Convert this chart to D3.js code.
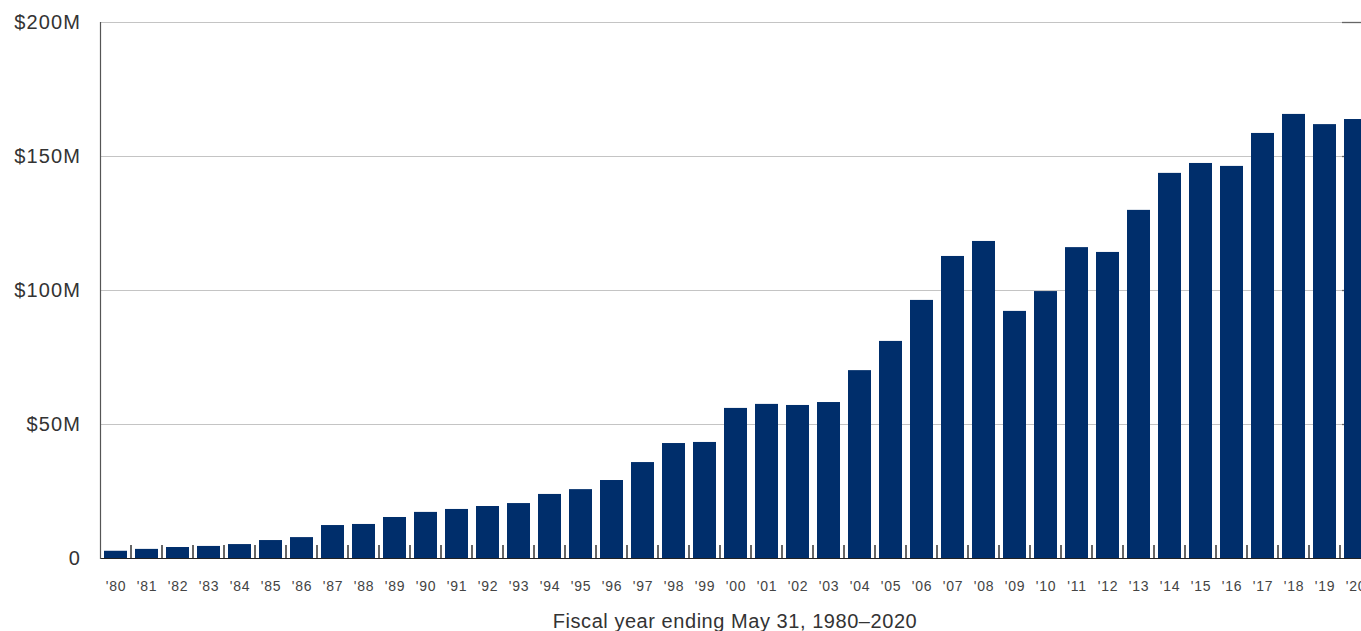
<!DOCTYPE html>
<html><head><meta charset="utf-8">
<script src="https://cdn.jsdelivr.net/npm/d3@7"></script>
<style>html,body{margin:0;padding:0;background:#fff;overflow:hidden}</style>
</head><body>
<svg id="c" width="1361" height="631"></svg>
<script>
const years = ["'80","'81","'82","'83","'84","'85","'86","'87","'88","'89","'90","'91","'92","'93","'94","'95","'96","'97","'98","'99","'00","'01","'02","'03","'04","'05","'06","'07","'08","'09","'10","'11","'12","'13","'14","'15","'16","'17","'18","'19","'20"];
const revenue = [2.7,3.4,4.1,4.5,5.2,6.7,7.8,12.3,12.7,15.3,17.2,18.3,19.4,20.5,23.9,25.7,29.1,35.8,42.9,43.3,56.0,57.5,57.1,58.2,70.1,81.0,96.3,112.7,118.3,92.2,99.6,116.0,114.2,129.9,143.7,147.4,146.3,158.6,165.7,161.9,163.8];
const yTicks = [0,50,100,150,200];
const yTickLabels = ["0","$50M","$100M","$150M","$200M"];
const xTitle = "Fiscal year ending May 31, 1980–2020";

const svg = d3.select("#c");
const font = "'Liberation Sans', Arial, Helvetica, sans-serif";
const mLeft = 100, mRight = 1371, mTop = 22, mBottom = 558;

const x = d3.scaleBand().domain(years).range([mLeft, mRight]).paddingInner(0.258).paddingOuter(0.129);
const y = d3.scaleLinear().domain([0, 200]).range([mBottom, mTop]);

// gridlines
svg.append("g").selectAll("line").data(yTicks.filter(d => d > 0)).join("line")
  .attr("x1", mLeft).attr("x2", 1361)
  .attr("y1", d => y(d) + 0.5).attr("y2", d => y(d) + 0.5)
  .attr("stroke", "#c4c4c4").attr("stroke-width", 1);
// right-edge darker segments
svg.append("g").selectAll("line").data(yTicks.filter(d => d > 0)).join("line")
  .attr("x1", 1342).attr("x2", 1361)
  .attr("y1", d => y(d) + 0.5).attr("y2", d => y(d) + 0.5)
  .attr("stroke", "#666").attr("stroke-width", 1.3);

// y labels
svg.append("g").selectAll("text").data(yTicks).join("text")
  .attr("x", 81).attr("y", d => y(d))
  .attr("dy", "0.36em")
  .attr("text-anchor", "end")
  .attr("font-family", font).attr("font-size", 20).attr("letter-spacing", 1.1).attr("fill", "#333")
  .text((d, i) => yTickLabels[i]);

// bars
svg.append("g").selectAll("rect").data(years).join("rect")
  .attr("x", d => x(d)).attr("width", x.bandwidth())
  .attr("y", (d, i) => y(revenue[i]))
  .attr("height", (d, i) => y(0) - y(revenue[i]))
  .attr("fill", "#002e6b");

// baseline
svg.append("line").attr("x1", mLeft).attr("x2", 1361)
  .attr("y1", mBottom + 0.5).attr("y2", mBottom + 0.5)
  .attr("stroke", "#222").attr("stroke-width", 1.2);

// left axis line
svg.append("line").attr("x1", mLeft + 0.5).attr("x2", mLeft + 0.5)
  .attr("y1", mTop).attr("y2", mBottom + 1)
  .attr("stroke", "#555").attr("stroke-width", 1.2);

// tick marks between bars
const gap = x.step() - x.bandwidth();
svg.append("g").selectAll("line").data(years.slice(1)).join("line")
  .attr("x1", d => x(d) - gap / 2).attr("x2", d => x(d) - gap / 2)
  .attr("y1", mBottom - 13).attr("y2", mBottom)
  .attr("stroke", "#333").attr("stroke-width", 1.5);

// x labels
svg.append("g").selectAll("text").data(years).join("text")
  .attr("x", d => x(d) + x.bandwidth() / 2 + 0.5).attr("y", 591)
  .attr("text-anchor", "middle")
  .attr("font-family", font).attr("font-size", 14).attr("letter-spacing", 0.8).attr("fill", "#444")
  .text(d => d);

// x title
svg.append("text").attr("x", 735).attr("y", 628)
  .attr("text-anchor", "middle")
  .attr("font-family", font).attr("font-size", 20).attr("letter-spacing", 0.55).attr("fill", "#333")
  .text(xTitle);
</script>
</body></html>
